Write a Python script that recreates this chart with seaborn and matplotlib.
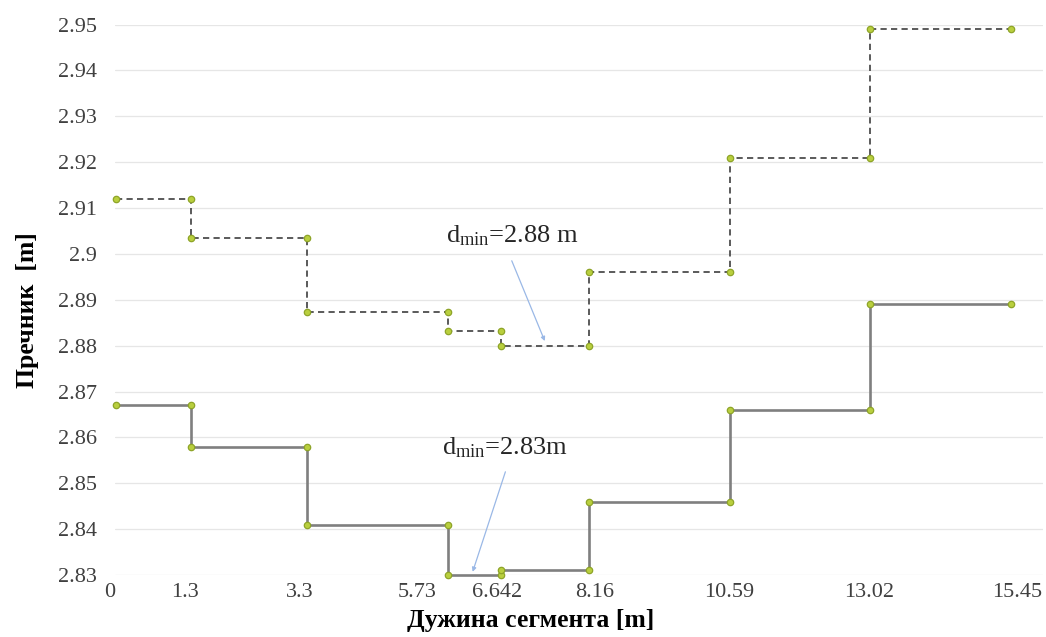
import matplotlib
matplotlib.use("Agg")
import matplotlib.pyplot as plt
import matplotlib.transforms as mtransforms
import numpy as np
import pandas as pd
import seaborn as sns

# Segment boundaries along the length [m]
bounds = [0, 1.3, 3.3, 5.73, 6.642, 8.16, 10.59, 13.02, 15.45]
tick_labels = ["0", "1.3", "3.3", "5.73", "6.642", "8.16", "10.59", "13.02", "15.45"]

# Diameter of each segment [m]
upper_diam = [2.912, 2.9035, 2.8874, 2.8832, 2.880, 2.896, 2.921, 2.949]
lower_diam = [2.867, 2.858, 2.841, 2.830, 2.831, 2.846, 2.866, 2.889]

y_ticks = [2.83, 2.84, 2.85, 2.86, 2.87, 2.88, 2.89, 2.90, 2.91, 2.92, 2.93, 2.94, 2.95]

# Minimum-diameter callouts: (text, text anchor x, text baseline y, arrow start, arrow tip)
note_upper = ("d$_{\\mathrm{min}}$=2.88 m", 6.84, 2.9024, (6.83, 2.8985), (7.40, 2.8810))
note_lower = ("d$_{\\mathrm{min}}$=2.83m", 6.71, 2.8562, (6.72, 2.8525), (6.155, 2.8307))


def step_frame(b, vals, name):
    xs, ys = [], []
    for i, v in enumerate(vals):
        xs += [b[i], b[i + 1]]
        ys += [v, v]
    return pd.DataFrame({"x": xs, "y": ys, "series": name})


df_up = step_frame(bounds, upper_diam, "upper")
df_lo = step_frame(bounds, lower_diam, "lower")

sns.set_theme(style="white")
plt.rcParams["font.family"] = ["Liberation Serif", "DejaVu Serif"]
plt.rcParams["mathtext.fontset"] = "custom"
plt.rcParams["mathtext.rm"] = "Liberation Serif"
plt.rcParams["mathtext.it"] = "Liberation Serif:italic"

fig = plt.figure(figsize=(10.46, 6.37), dpi=100)
ax = fig.add_axes([0.1099, 0.0973, 0.8872, 0.8642])

for y in y_ticks:
    ax.axhline(y, color="#e6e6e6", lw=0.9, zorder=0)

marker_kw = dict(marker="o", markersize=4.6, markerfacecolor="#b9cf3e",
                 markeredgecolor="#8ea428", markeredgewidth=0.9)

sns.lineplot(data=df_lo, x="x", y="y", sort=False, estimator=None, ax=ax,
             color="#7f7f7f", lw=1.9, clip_on=False, **marker_kw)
sns.lineplot(data=df_up, x="x", y="y", sort=False, estimator=None, ax=ax,
             color="#5a5a5a", lw=1.4, dashes=(3.2, 2.2), clip_on=False, **marker_kw)

ax.set_xlim(-0.02, 16.0)
ax.set_ylim(2.83, 2.95)
ax.set_yticks(y_ticks)
ax.set_yticklabels([f"{round(v, 2):g}" for v in y_ticks])
ax.set_xticks(bounds)
ax.set_xticklabels(tick_labels)

ax.tick_params(axis="both", length=0, labelsize=16, colors="#404040")
ax.tick_params(axis="y", pad=13)
ax.tick_params(axis="x", pad=6)

# nudge x tick labels sideways
shifts_px = [-6, -6, -8, -31, -4, 6, 0, -1, 6]
for lab, dx in zip(ax.get_xticklabels(), shifts_px):
    lab.set_transform(lab.get_transform() +
                      mtransforms.ScaledTranslation(dx / 100, 0, fig.dpi_scale_trans))

for s in ax.spines.values():
    s.set_visible(False)

ax.set_xlabel("Дужина сегмента [m]", fontsize=18.5, fontweight="bold", color="#000000")
ax.xaxis.set_label_coords(0.448, -0.062)
ax.set_ylabel("Пречник  [m]", fontsize=18.5, fontweight="bold", color="#000000")
ax.yaxis.set_label_coords(-0.082, 0.481)

for text, tx, ty, start, tip in (note_upper, note_lower):
    ax.text(tx, ty, text, ha="center", va="baseline", fontsize=19, color="#262626")
    ax.annotate("", xy=tip, xytext=start,
                arrowprops=dict(arrowstyle="-|>", color="#9ab8e6", lw=0.9,
                                mutation_scale=6, shrinkA=0, shrinkB=0))

fig.savefig("out.png", dpi=100)
